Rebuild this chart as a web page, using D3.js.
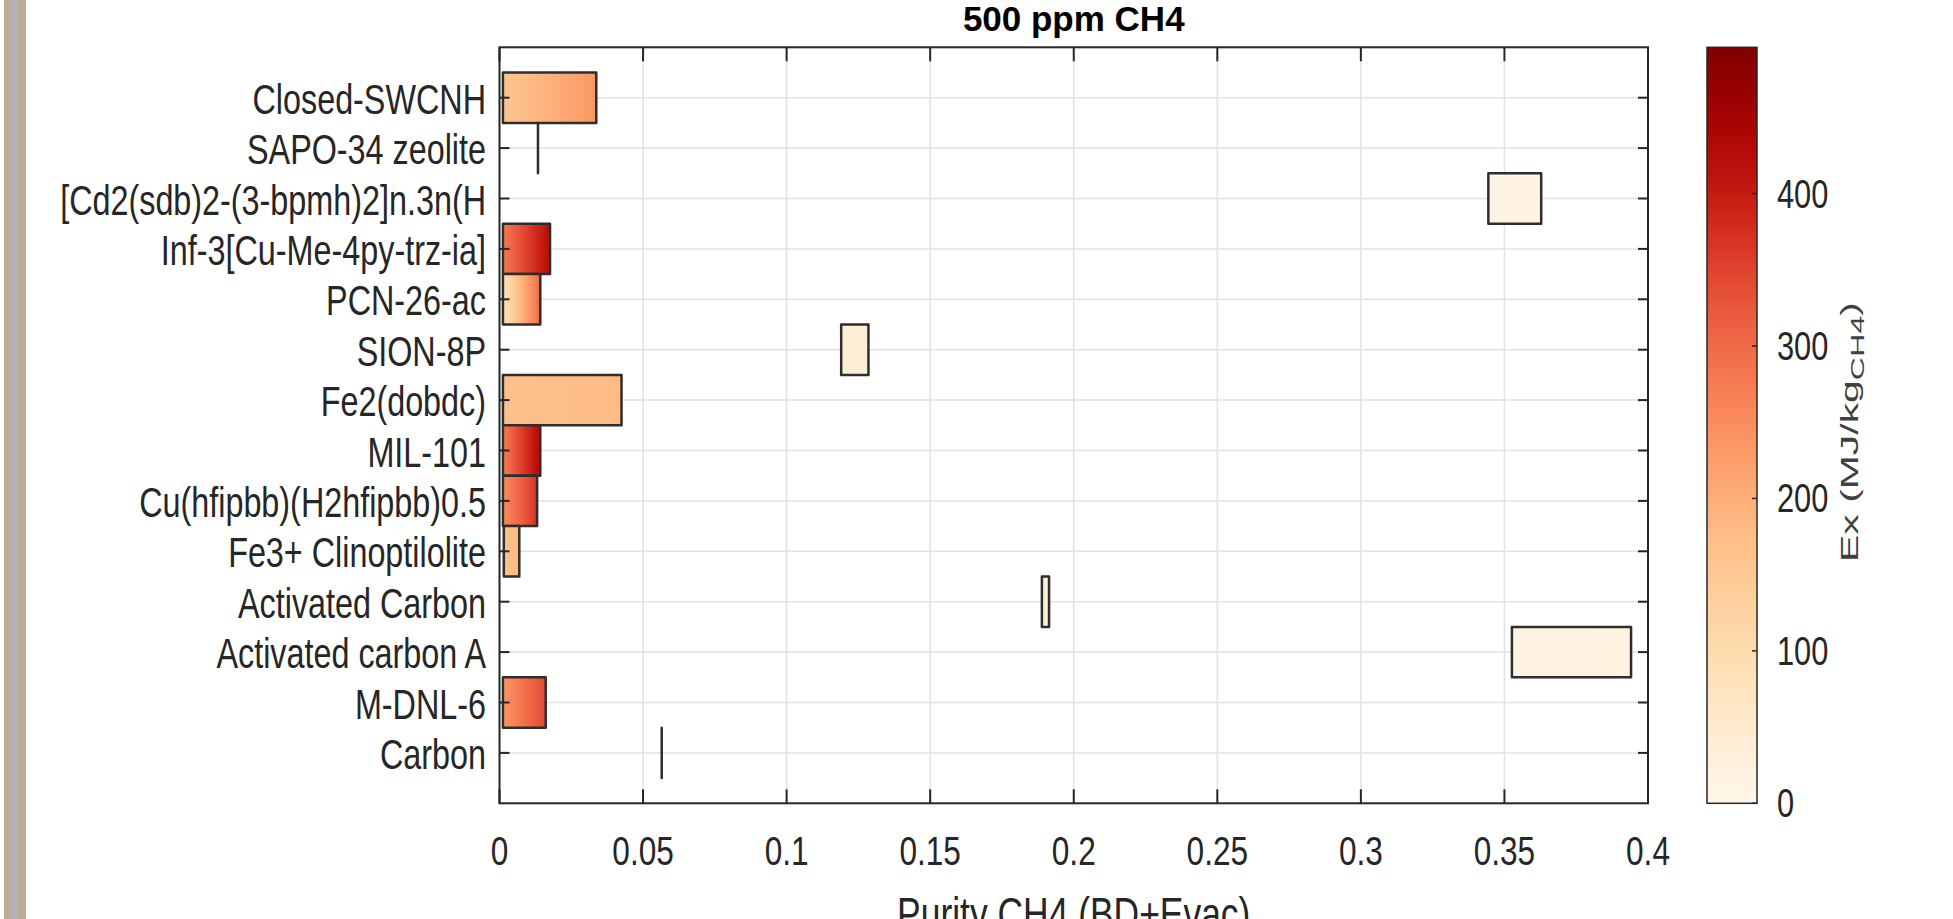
<!DOCTYPE html>
<html>
<head>
<meta charset="utf-8">
<script src="https://cdn.jsdelivr.net/npm/d3@7"></script>
<style>
  html, body { margin: 0; padding: 0; background: #fff; }
  svg { display: block; }
  text { font-family: "Liberation Sans", Arial, sans-serif; }
</style>
</head>
<body>
<div id="chart"></div>
<script>
const WIDTH = 1953;
const HEIGHT = 919;

// data, top row first
const categories = [
  "Closed-SWCNH",
  "SAPO-34 zeolite",
  "[Cd2(sdb)2-(3-bpmh)2]n.3n(H",
  "Inf-3[Cu-Me-4py-trz-ia]",
  "PCN-26-ac",
  "SION-8P",
  "Fe2(dobdc)",
  "MIL-101",
  "Cu(hfipbb)(H2hfipbb)0.5",
  "Fe3+ Clinoptilolite",
  "Activated Carbon",
  "Activated carbon A",
  "M-DNL-6",
  "Carbon"
];
const purityLow  = [0.0012, 0.0134, 0.3444, 0.0012, 0.0012, 0.1190, 0.0012, 0.0012, 0.0012, 0.0015, 0.1889, 0.3526, 0.0012, 0.0565];
const purityHigh = [0.0337, 0.0134, 0.3628, 0.0176, 0.0142, 0.1285, 0.0425, 0.0142, 0.0131, 0.0069, 0.1914, 0.3941, 0.0161, 0.0565];
const exLow  = [160, 100, 15, 280, 80, 35, 168, 275, 250, 165, 40, 20, 235, 50];
const exHigh = [235, 100, 15, 425, 300, 35, 180, 435, 370, 185, 40, 22, 345, 50];

const xTicks = [0, 0.05, 0.1, 0.15, 0.2, 0.25, 0.3, 0.35, 0.4];
const cbTicks = [0, 100, 200, 300, 400];
const EX_MAX = 496;

const TITLE = "500 ppm CH4";
const XLABEL = "Purity CH4 (BD+Evac)";

// layout
const plot = { left: 499.5, right: 1648, top: 47.3, bottom: 803.3 };
const cbar = { left: 1707, right: 1757 };
const SX = 0.77;          // narrow text look of the original
const AXIS = "#262626";

const svg = d3.select("#chart").append("svg")
  .attr("width", WIDTH)
  .attr("height", HEIGHT);

// slide border on the left
svg.append("rect").attr("x", 4).attr("y", 0).attr("width", 22).attr("height", HEIGHT).attr("fill", "#bcac97");
svg.append("rect").attr("x", 12).attr("y", 0).attr("width", 6).attr("height", HEIGHT).attr("fill", "#b3b3bb");

const x = d3.scaleLinear().domain([0, 0.4]).range([plot.left, plot.right]);
const n = categories.length;
const y = d3.scaleLinear().domain([0, n + 1]).range([plot.bottom, plot.top]);
const rowPos = i => n - i;

const color = d3.scaleSequential(d3.interpolateOrRd).domain([0, EX_MAX]);

function narrowText(g, px, py, str, size, anchor, fill) {
  return g.append("g")
    .attr("transform", `translate(${px},${py}) scale(${SX},1)`)
    .append("text")
    .attr("text-anchor", anchor)
    .attr("font-size", size)
    .attr("fill", fill || AXIS)
    .text(str);
}

// grid
const grid = svg.append("g");
grid.selectAll("line.v")
  .data(xTicks.slice(1, -1))
  .join("line")
  .attr("x1", d => x(d)).attr("x2", d => x(d))
  .attr("y1", plot.top).attr("y2", plot.bottom)
  .attr("stroke", "#e2e2e2").attr("stroke-width", 1.5);
grid.selectAll("line.h")
  .data(categories)
  .join("line")
  .attr("x1", plot.left).attr("x2", plot.right)
  .attr("y1", (d, i) => y(rowPos(i))).attr("y2", (d, i) => y(rowPos(i)))
  .attr("stroke", "#e2e2e2").attr("stroke-width", 1.5);

// gradients for the bars
const defs = svg.append("defs");
categories.forEach((c, i) => {
  const grad = defs.append("linearGradient")
    .attr("id", "bar" + i)
    .attr("x1", "0").attr("x2", "1").attr("y1", "0").attr("y2", "0");
  d3.range(7).forEach(k => {
    const t = k / 6;
    grad.append("stop")
      .attr("offset", t)
      .attr("stop-color", color(exLow[i] + t * (exHigh[i] - exLow[i])));
  });
});

// bars: span from lowest to highest purity, one row tall
svg.append("g")
  .selectAll("path")
  .data(categories)
  .join("path")
  .attr("d", (d, i) => {
    const x0 = x(purityLow[i]), x1 = x(purityHigh[i]);
    const y0 = y(rowPos(i) + 0.5), y1 = y(rowPos(i) - 0.5);
    return `M${x0},${y0}H${x1}V${y1}H${x0}Z`;
  })
  .attr("fill", (d, i) => `url(#bar${i})`)
  .attr("stroke", "#2e2e2e")
  .attr("stroke-width", 2.5)
  .attr("stroke-linejoin", "round");

// axes box and ticks
const axes = svg.append("g").attr("stroke", AXIS).attr("stroke-width", 2);
axes.append("rect")
  .attr("x", plot.left).attr("y", plot.top)
  .attr("width", plot.right - plot.left).attr("height", plot.bottom - plot.top)
  .attr("fill", "none");
xTicks.forEach(t => {
  axes.append("line").attr("x1", x(t)).attr("x2", x(t)).attr("y1", plot.bottom).attr("y2", plot.bottom - 14);
  axes.append("line").attr("x1", x(t)).attr("x2", x(t)).attr("y1", plot.top).attr("y2", plot.top + 14);
});
categories.forEach((c, i) => {
  const yy = y(rowPos(i));
  axes.append("line").attr("x1", plot.left).attr("x2", plot.left + 10).attr("y1", yy).attr("y2", yy);
  axes.append("line").attr("x1", plot.right).attr("x2", plot.right - 10).attr("y1", yy).attr("y2", yy);
});

// labels
const labels = svg.append("g");
categories.forEach((c, i) => narrowText(labels, 486, y(rowPos(i)) + 16, c, 42, "end"));
xTicks.forEach(t => narrowText(labels, x(t), plot.bottom + 62, d3.format("~g")(t), 41, "middle"));
narrowText(labels, (plot.left + plot.right) / 2, 930, XLABEL, 46, "middle");

svg.append("text")
  .attr("x", (plot.left + plot.right) / 2)
  .attr("y", 31)
  .attr("text-anchor", "middle")
  .attr("font-size", 35)
  .attr("font-weight", "bold")
  .attr("fill", "#000")
  .text(TITLE);

// colorbar
const cy = d3.scaleLinear().domain([0, EX_MAX]).range([plot.bottom, plot.top]);
const cbGrad = defs.append("linearGradient")
  .attr("id", "cbar")
  .attr("x1", "0").attr("x2", "0").attr("y1", "1").attr("y2", "0");
d3.range(0, 1.0001, 0.05).forEach(t => {
  cbGrad.append("stop").attr("offset", t).attr("stop-color", d3.interpolateOrRd(t));
});
svg.append("rect")
  .attr("x", cbar.left).attr("y", plot.top)
  .attr("width", cbar.right - cbar.left).attr("height", plot.bottom - plot.top)
  .attr("fill", "url(#cbar)")
  .attr("stroke", AXIS).attr("stroke-width", 1.5);
cbTicks.forEach(t => {
  svg.append("line")
    .attr("x1", cbar.right).attr("x2", cbar.right - 5)
    .attr("y1", cy(t)).attr("y2", cy(t))
    .attr("stroke", AXIS).attr("stroke-width", 1.5);
  narrowText(labels, 1777, cy(t) + 14, t, 40, "start");
});

const cbLabel = svg.append("g")
  .attr("transform", `translate(1858,432) scale(0.72,1.24) rotate(-90)`)
  .append("text")
  .attr("text-anchor", "middle")
  .attr("font-size", 33)
  .attr("fill", "#404040");
cbLabel.append("tspan").text("Ex (MJ/kg");
cbLabel.append("tspan").attr("font-size", 26).attr("dy", 8).text("CH4");
cbLabel.append("tspan").attr("dy", -8).text(")");
</script>
</body>
</html>
